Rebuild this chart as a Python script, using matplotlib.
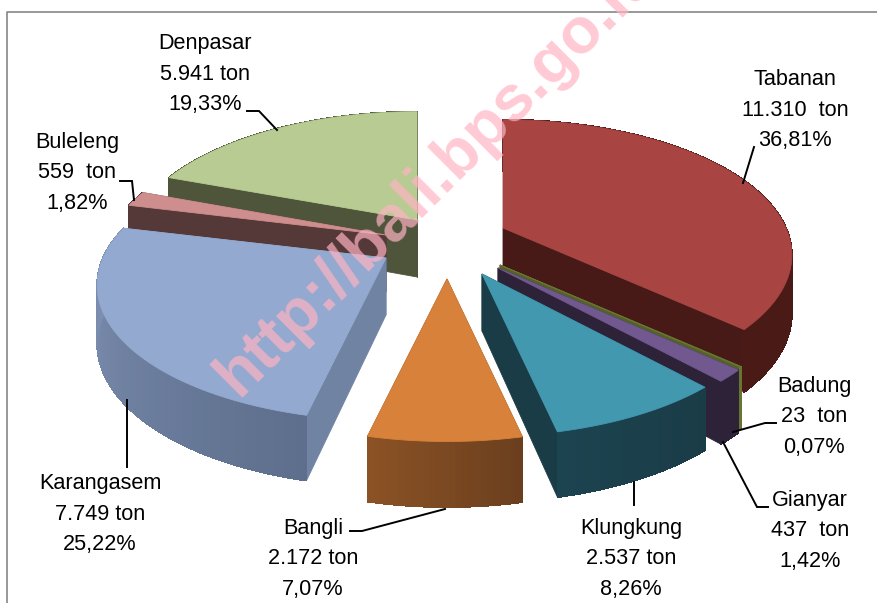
# coding: utf-8
import numpy as np
import matplotlib
matplotlib.use("Agg")
import matplotlib.pyplot as plt
from matplotlib.colors import to_rgb

districts = ["Tabanan", "Badung", "Gianyar", "Klungkung", "Bangli", "Karangasem", "Buleleng", "Denpasar"]
ton_labels = ["11.310  ton", "23  ton", "437  ton", "2.537 ton", "2.172 ton", "7.749 ton", "559  ton", "5.941 ton"]
shares = [36.81, 0.07, 1.42, 8.26, 7.07, 25.22, 1.82, 19.33]
pct_labels = ["36,81%", "0,07%", "1,42%", "8,26%", "7,07%", "25,22%", "1,82%", "19,33%"]

# where each exploded slice has its point, in pixels
apex_x = [503, 500, 498, 482, 447, 386, 386, 417]
apex_y = [228, 265, 268, 274, 279, 258, 235, 220]
width_scale = [1, 1, 1, 1, 1, 1, 0.98, 1]

top_colors = ["#A84441", "#66752F", "#71588F", "#4198AF", "#D7813A", "#93A9CF", "#CE8E8D", "#B7CB92"]
cut_colors = ["#471A17", "#55602A", "#2D2238", "#1A3C47", "#7A4820", "#7083A3", "#553838", "#4E553B"]
wall_dark = ["#471A17", "#55602A", "#2D2238", "#1A3C47", "#6B3F1E", "#5E6F8D", "#553838", "#4E553B"]
wall_light = ["#4A1A17", "#66752F", "#2D2238", "#1C4350", "#8B5225", "#8395B8", "#553838", "#4E553B"]
draw_order = [7, 6, 0, 1, 2, 3, 5, 4]

label_x = [795, 814, 810, 631, 313, 100, 77, 205]
label_y = [110, 417, 531, 559, 559, 514, 173, 74]

leaders = [
    [(743, 183), (754, 147)],
    [(733, 432), (765, 423), (776, 423)],
    [(723, 442), (757, 507), (768, 507)],
    [(634, 482), (634, 505)],
    [(445, 509), (362, 531), (350, 531)],
    [(127, 400), (127, 467)],
    [(134, 200), (132, 181), (120, 181)],
    [(277, 130), (259, 111), (247, 111)],
]

A = 283.0   # half width of the pie
B = 130.0   # half depth of the pie
K = 0.2     # perspective strength
H = 57.0    # thickness


def rim(t, ax0, ay0, depth=0.0, scale=1.0):
    # t in radians clockwise from the back of the pie
    p = 1.0 / (1.0 + K * np.cos(t))
    x = ax0 + scale * A * np.sin(t) * p
    y = ay0 - B * np.cos(t) * p + depth * (1 + 0.6 * (p - 1))
    return x, y


def mix(c1, c2, f):
    a, b = np.array(to_rgb(c1)), np.array(to_rgb(c2))
    return tuple(a + (b - a) * f)


def face(ax, xs, ys, color, smooth=True):
    ax.fill(xs, ys, color=color, lw=0.6, ec=color, zorder=2, antialiased=smooth)


fig = plt.figure(figsize=(8.77, 6.03), dpi=100)
ax = fig.add_axes([0, 0, 1, 1])
ax.set_xlim(0, 877)
ax.set_ylim(603, 0)
ax.axis("off")

# chart border, only left and top are in the picture
ax.plot([7, 7, 877], [603, 12, 12], color="#868686", lw=1.2, zorder=1)

edges = np.cumsum([0] + shares) / 100.0 * 2 * np.pi

for i in draw_order:
    t0, t1 = edges[i], edges[i + 1]
    cx, cy = apex_x[i], apex_y[i]
    sc = width_scale[i]
    ts = np.linspace(t0, t1, max(int(np.degrees(t1 - t0)), 2) + 1)

    # radial cut faces
    for t in (t1, t0):
        rx, ry = rim(t, cx, cy, 0, sc)
        rx2, ry2 = rim(t, cx, cy, H, sc)
        face(ax, [cx, rx, rx2, cx], [cy, ry, ry2, cy + H], cut_colors[i])

    # outer wall, one strip per degree so the shade can run along it
    for j in range(len(ts) - 1):
        xa, ya = rim(ts[j:j + 2], cx, cy, 0, sc)
        xb, yb = rim(ts[j:j + 2], cx, cy, H, sc)
        f = j / max(len(ts) - 2, 1)
        face(ax, [xa[0], xa[1], xb[1], xb[0]], [ya[0], ya[1], yb[1], yb[0]],
             mix(wall_dark[i], wall_light[i], f), smooth=False)

    # top
    xs, ys = rim(ts, cx, cy, 0, sc)
    face(ax, np.r_[cx, xs], np.r_[cy, ys], top_colors[i])

for pts in leaders:
    px, py = zip(*pts)
    ax.plot(px, py, color="black", lw=1.4, zorder=3, solid_joinstyle="miter")

for i in range(len(districts)):
    ax.text(label_x[i], label_y[i], districts[i] + "\n" + ton_labels[i] + "\n" + pct_labels[i],
            ha="center", va="center", multialignment="center", family="Liberation Sans",
            fontsize=15.6, linespacing=1.62, color="black", zorder=4)

ax.text(238, 398, "http://bali.bps.go.id", rotation=45, rotation_mode="anchor",
        ha="left", va="baseline", family="Liberation Sans", fontweight="bold", fontsize=46.5,
        color=(1.0, 180 / 255, 195 / 255), alpha=0.7, zorder=5, clip_on=True)

fig.savefig("out.png", dpi=100)
